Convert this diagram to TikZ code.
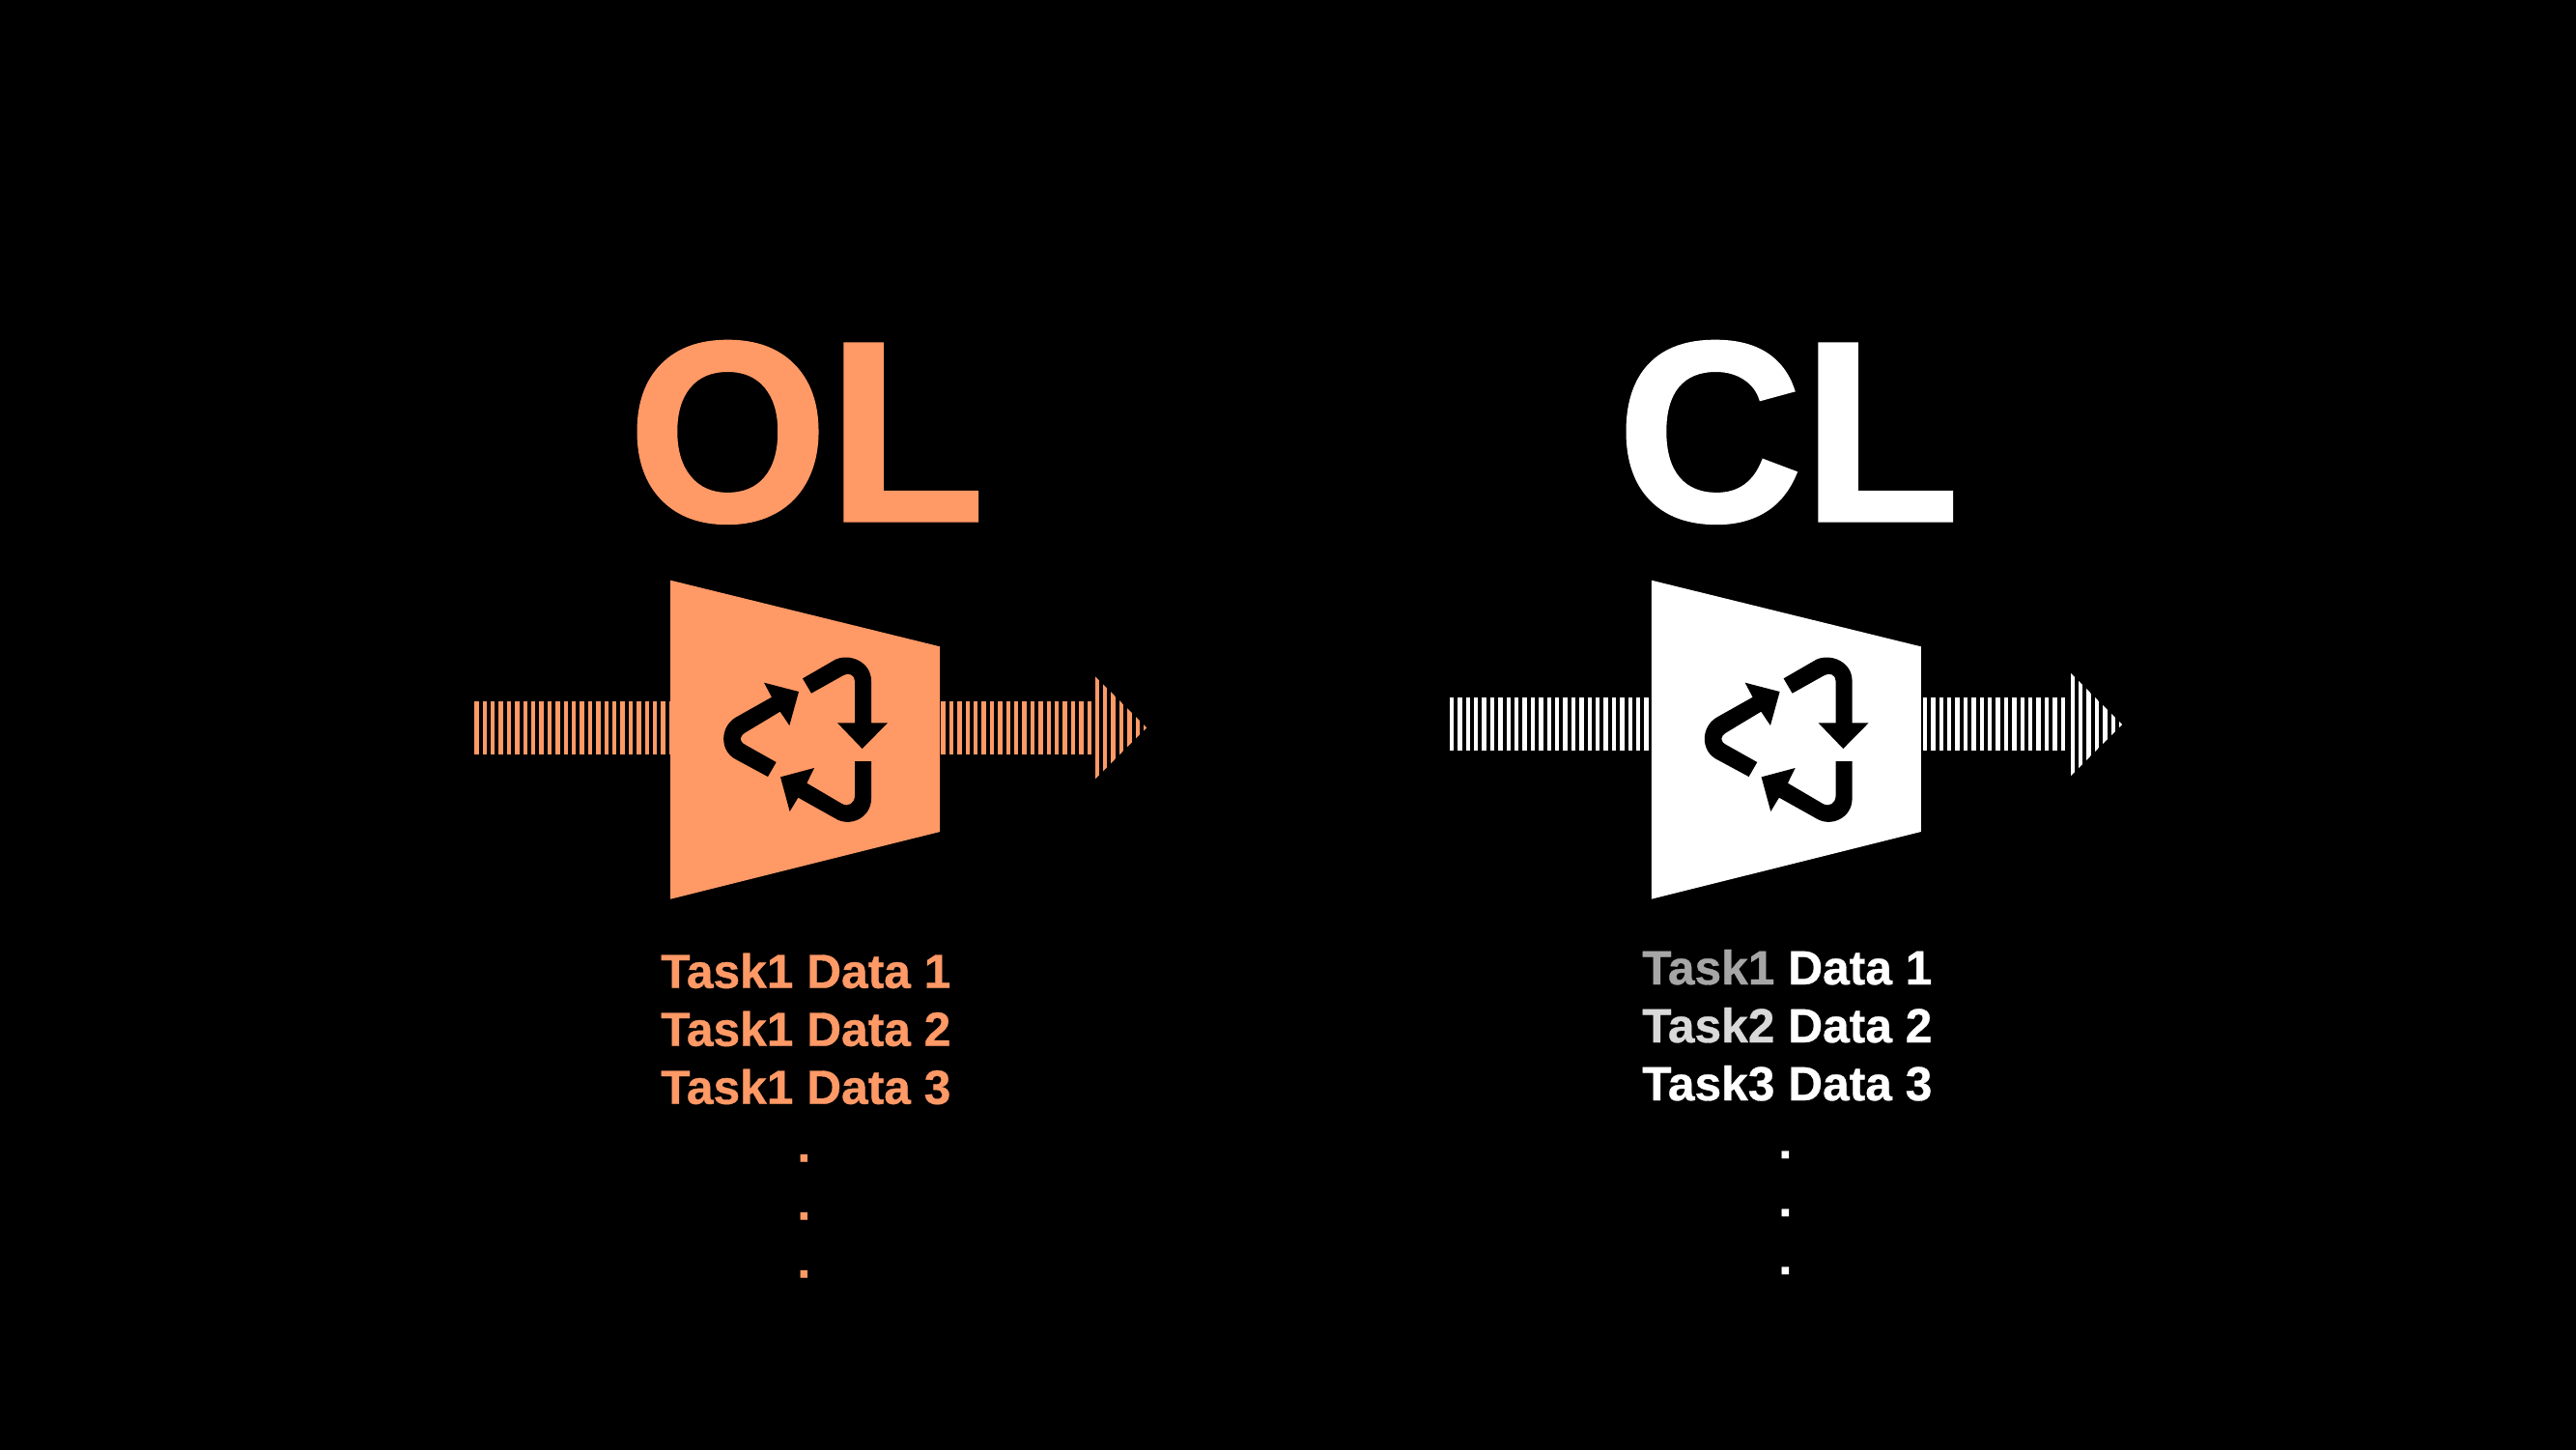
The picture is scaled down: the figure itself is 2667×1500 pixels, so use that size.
\documentclass[tikz,border=0pt]{standalone}
\usepackage{fontspec}
\setmainfont{Liberation Sans}
\newfontfamily\titlefont[FakeBold=1.2]{Liberation Sans Bold}
\newfontfamily\taskfont[FakeBold=0.7]{Liberation Sans Bold}
\definecolor{olcolor}{HTML}{FF9966}
\definecolor{taskone}{HTML}{A6A6A6}
\definecolor{tasktwo}{HTML}{D9D9D9}
\tikzset{%
    title/.style={
      inner sep=0pt,
      anchor=base west,
      font=\fontsize{266}{266}\selectfont\titlefont
    },
    taskline/.style={
      inner sep=0pt,
      anchor=base west,
      font=\fontsize{49.7}{50}\selectfont\taskfont
    },
    dotline/.style={
      inner sep=0pt,
      anchor=base,
      font=\fontsize{50}{50}\selectfont\taskfont
    },
    stripe/.style={
      line width=4.4pt
    }
  }
% colour, first x, last index, centre line
\newcommand{\stripes}[4]{
  \foreach \i in {0,...,#3}
    \draw [stripe, #1] (#2+8.4*\i,#4-27.6) -- (#2+8.4*\i,#4+27.6);
}
% colour, x of the base, centre line
\newcommand{\stripehead}[3]{
  \begin{scope}
    \clip (#2-2.2,#3-53.5) -- (#2-2.2,#3+53.5) -- (#2+51.5,#3) -- cycle;
    \foreach \i in {0,...,6}
      \draw [stripe, #1] (#2+8.4*\i,#3-54) -- (#2+8.4*\i,#3+54);
  \end{scope}
}
% mill body and the three arrows, left edge at x #2
\newcommand{\loopmill}[2]{
  \fill [#1] (#2,600.7) -- (#2+279,669.3) -- (#2+279,861) -- (#2,930.7) -- cycle;
  \begin{scope}[shift={(#2+35.8,670)}, scale=1/3]
    \fill [black] (303,97) -- (405,38) .. controls (450,18) and (516,45) .. (516,105)
      -- (516,235) -- (567,235) -- (488,315) -- (411,235) -- (465,235) -- (465,105)
      .. controls (465,85) and (445,78) .. (430,87) -- (330,143) -- cycle;
    \fill [black] (291,138) -- (183,110) -- (207,155) -- (95,218)
      .. controls (45,248) and (45,322) .. (95,348) -- (195,402) -- (221,357) -- (125,303)
      .. controls (105,292) and (105,278) .. (125,265) -- (233,200) -- (262,243) -- cycle;
    \fill [black] (234,403) -- (339,375) -- (316,422) -- (425,486)
      .. controls (445,497) and (465,485) .. (465,460) -- (465,354) -- (516,354) -- (516,470)
      .. controls (516,530) and (450,560) .. (405,532) -- (289,467) -- (263,510) -- cycle;
  \end{scope}
}

\begin{document}
\begin{tikzpicture}[x=1pt, y=-1pt]
      \useasboundingbox (0,0) rectangle (2667,1500);
      \fill [black] (-3,-3) rectangle (2670,1503);

      % left side
      \node [title, text=olcolor] (ol) at (650,539) {OL};
      \stripes{olcolor}{493.4}{24}{753.3}
      \stripes{olcolor}{976.5}{18}{753.3}
      \stripehead{olcolor}{1135.7}{753.3}
      \loopmill{olcolor}{694.2}
      \node [taskline, text=olcolor] (ol1) at (684,1022.7) {Task1 Data 1};
      \node [taskline, text=olcolor] (ol2) at (684,1082.7) {Task1 Data 2};
      \node [taskline, text=olcolor] (ol3) at (684,1142.7) {Task1 Data 3};
      \node [dotline, text=olcolor] (old1) at (832.3,1202.5) {.};
      \node [dotline, text=olcolor] (old2) at (832.3,1262.5) {.};
      \node [dotline, text=olcolor] (old3) at (832.3,1322.5) {.};

      % right side
      \node [title, text=white] (cl) at (1674,539) {CL};
      \stripes{white}{1503}{25}{749.8}
      \stripes{white}{1993}{17}{749.8}
      \stripehead{white}{2145.7}{750}
      \loopmill{white}{1709.8}
      \node [taskline, text=white] (cl1) at (1700,1019) {\textcolor{taskone}{Task1} Data 1};
      \node [taskline, text=white] (cl2) at (1700,1079) {\textcolor{tasktwo}{Task2} Data 2};
      \node [taskline, text=white] (cl3) at (1700,1139) {Task3 Data 3};
      \node [dotline, text=white] (cld1) at (1848.3,1199) {.};
      \node [dotline, text=white] (cld2) at (1848.3,1259) {.};
      \node [dotline, text=white] (cld3) at (1848.3,1319) {.};
    \end{tikzpicture}
\end{document}
